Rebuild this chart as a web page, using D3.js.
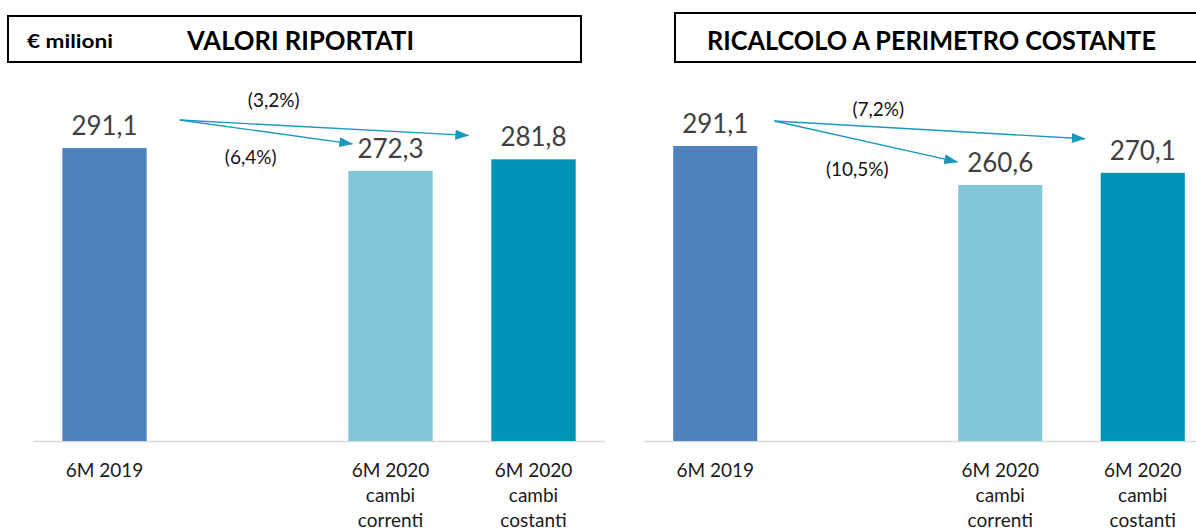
<!DOCTYPE html>
<html>
<head>
<meta charset="utf-8">
<script src="https://cdn.jsdelivr.net/npm/d3@7"></script>
<style>
  body { margin: 0; background: #fff; }
  svg { display: block; }
</style>
</head>
<body>
<div id="chart"></div>
<script>
// categories (the empty slot keeps the gap between 2019 and 2020)
const categories = ["6M 2019", "", "6M 2020|cambi|correnti", "6M 2020|cambi|costanti"]
const barCats = [categories[0], categories[2], categories[3]]

const reportedValues = [291.1, 272.3, 281.8]
const constantValues = [291.1, 260.6, 270.1]

const reportedLabels = ["291,1", "272,3", "281,8"]
const constantLabels = ["291,1", "260,6", "270,1"]

// arrows: from bar index -> to bar index, with change label
const reportedChanges = [
    { from: 0, to: 2, label: "(3,2%)" },
    { from: 0, to: 1, label: "(6,4%)" }
]
const constantChanges = [
    { from: 0, to: 2, label: "(7,2%)" },
    { from: 0, to: 1, label: "(10,5%)" }
]

const barColours = ["#4F81BD", "#82C7D9", "#0093B6"]
const arrowColour = "#1B98BE"

const width = 1196
const height = 531
const baseY = 441

const svg = d3.select("#chart")
    .html(null)
    .append("svg")
    .attr("width", width)
    .attr("height", height)

svg.append("defs").append("marker")
    .attr("id", "head")
    .attr("viewBox", "0 0 14 10")
    .attr("refX", 13)
    .attr("refY", 5)
    .attr("markerWidth", 14)
    .attr("markerHeight", 10)
    .attr("markerUnits", "userSpaceOnUse")
    .attr("orient", "auto")
    .append("path")
    .attr("d", "M0,0 L14,5 L0,10 Z")
    .attr("fill", arrowColour)

function drawPanel({
    values,
    labels,
    changes,
    xRange,
    yMin,
    yMax,
    yTop,
    start,      // offset of arrow start from first bar (right edge, top)
    tips,       // offset of each arrow tip from target bar (left edge, top)
    labelPos    // offset of each change label from arrow start
}) {
    const g = svg.append("g")

    const x = d3.scaleBand()
        .domain(categories)
        .range(xRange)
        .paddingInner(0.41)
        .paddingOuter(0.205)

    const y = d3.scaleLinear()
        .domain([yMin, yMax])
        .range([baseY, yTop])

    // baseline
    g.append("line")
        .attr("x1", xRange[0])
        .attr("x2", xRange[1])
        .attr("y1", baseY + 0.5)
        .attr("y2", baseY + 0.5)
        .attr("stroke", "#D9D9D9")
        .attr("stroke-width", 1.5)

    // bars
    g.append("g")
        .selectAll("rect")
        .data(values)
        .join("rect")
        .attr("x", (d, i) => x(barCats[i]))
        .attr("y", d => y(d))
        .attr("width", x.bandwidth())
        .attr("height", d => baseY - y(d))
        .attr("fill", (d, i) => barColours[i])

    // value labels
    g.append("g")
        .selectAll("text")
        .data(values)
        .join("text")
        .attr("x", (d, i) => x(barCats[i]) + x.bandwidth() / 2)
        .attr("y", d => y(d) - 13)
        .attr("text-anchor", "middle")
        .attr("font-family", "Lato")
        .attr("font-size", 26)
        .attr("fill", "#404040")
        .text((d, i) => labels[i])

    // category labels
    const cat = g.append("g")
        .selectAll("text")
        .data(barCats)
        .join("text")
        .attr("x", d => x(d) + x.bandwidth() / 2)
        .attr("y", 477)
        .attr("text-anchor", "middle")
        .attr("font-family", "Lato")
        .attr("font-size", 19)
        .attr("fill", "#1a1a1a")

    cat.selectAll("tspan")
        .data(d => d.split("|"))
        .join("tspan")
        .attr("x", function () { return d3.select(this.parentNode).attr("x") })
        .attr("dy", (d, i) => i === 0 ? 0 : 25)
        .text(d => d)

    // change arrows
    const sx = x(barCats[0]) + x.bandwidth() + start[0]
    const sy = y(values[0]) + start[1]

    changes.forEach((c, i) => {
        const tx = x(barCats[c.to]) + tips[i][0]
        const ty = y(values[c.to]) + tips[i][1]
        g.append("line")
            .attr("x1", sx)
            .attr("y1", sy)
            .attr("x2", tx)
            .attr("y2", ty)
            .attr("stroke", arrowColour)
            .attr("stroke-width", 1.4)
            .attr("marker-end", "url(#head)")

        g.append("text")
            .attr("x", sx + labelPos[i][0])
            .attr("y", sy + labelPos[i][1])
            .attr("text-anchor", "middle")
            .attr("font-family", "Lato")
            .attr("font-size", 19)
            .attr("fill", "#111")
            .text(c.label)
    })
}

drawPanel({
    values: reportedValues,
    labels: reportedLabels,
    changes: reportedChanges,
    xRange: [33, 605],
    yMin: 50,
    yMax: 350,
    yTop: baseY - 300 * 1.215,
    start: [33, -28],
    tips: [[-23, -24], [4, -27]],
    labelPos: [[94, -13], [71, 44]]
})

drawPanel({
    values: constantValues,
    labels: constantLabels,
    changes: constantChanges,
    xRange: [644, 1214],
    yMin: 60,
    yMax: 350,
    yTop: baseY - 290 * 1.2765,
    start: [17, -25],
    tips: [[-16, -34], [-1, -23]],
    labelPos: [[104, -5], [83, 55]]
})

// header boxes
const header = svg.append("g")

header.append("rect")
    .attr("x", 8)
    .attr("y", 16)
    .attr("width", 573)
    .attr("height", 46)
    .attr("fill", "none")
    .attr("stroke", "#000")
    .attr("stroke-width", 2)

header.append("text")
    .attr("x", 27)
    .attr("y", 48)
    .attr("font-family", "Lato")
    .attr("font-weight", "bold")
    .attr("font-size", 18)
    .attr("textLength", 86)
    .attr("lengthAdjust", "spacingAndGlyphs")
    .text("€ milioni")

header.append("text")
    .attr("x", 187)
    .attr("y", 50)
    .attr("font-family", "Lato")
    .attr("font-weight", "bold")
    .attr("font-size", 27)
    .attr("textLength", 227)
    .attr("lengthAdjust", "spacingAndGlyphs")
    .text("VALORI RIPORTATI")

header.append("rect")
    .attr("x", 675)
    .attr("y", 13)
    .attr("width", 540)
    .attr("height", 49)
    .attr("fill", "none")
    .attr("stroke", "#000")
    .attr("stroke-width", 2)

header.append("text")
    .attr("x", 707)
    .attr("y", 50)
    .attr("font-family", "Lato")
    .attr("font-weight", "bold")
    .attr("font-size", 27)
    .attr("textLength", 449)
    .attr("lengthAdjust", "spacingAndGlyphs")
    .text("RICALCOLO A PERIMETRO COSTANTE")
</script>
</body>
</html>
